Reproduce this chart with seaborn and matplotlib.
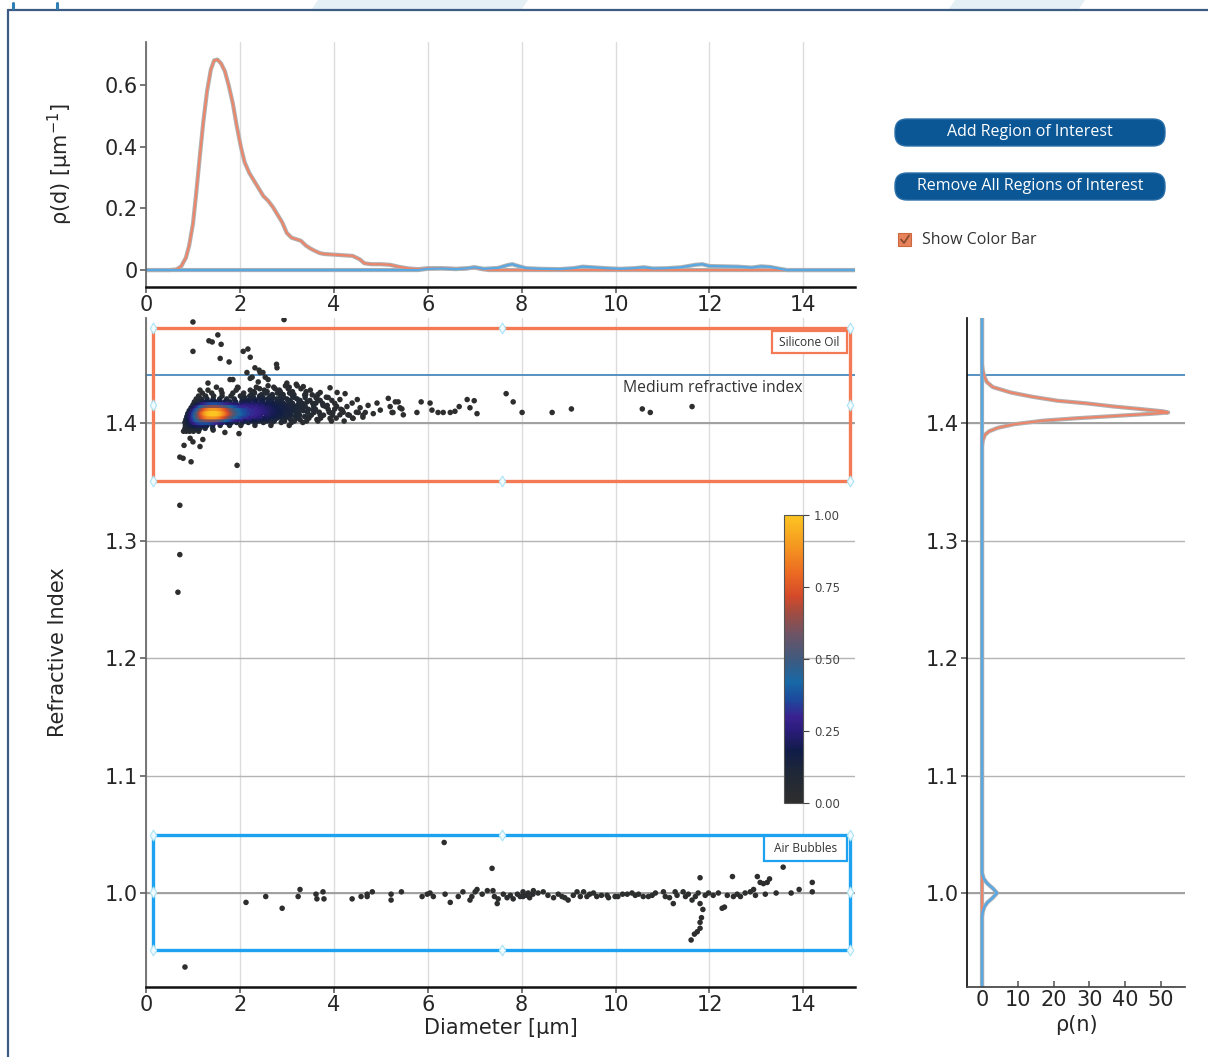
import numpy as np
import pandas as pd
import seaborn as sns
import matplotlib.pyplot as plt
from matplotlib.colors import LinearSegmentedColormap, Normalize
from matplotlib.cm import ScalarMappable
from matplotlib.patches import Rectangle, FancyBboxPatch, Polygon

W, H = 1208, 1057

# ---------------- (b) size distribution rho(d) ----------------
oil_size_d = [0.0, 0.5, 0.65, 0.75, 0.85, 0.92, 1.0, 1.07, 1.14, 1.22, 1.30, 1.38, 1.45,
              1.52, 1.60, 1.68, 1.76, 1.85, 1.93, 2.02, 2.10, 2.20, 2.30, 2.40, 2.50, 2.60,
              2.70, 2.80, 2.90, 3.00, 3.10, 3.20, 3.30, 3.40, 3.50, 3.60, 3.70, 3.80, 4.00,
              4.20, 4.40, 4.55, 4.65, 4.80, 5.00, 5.20, 5.40, 5.60, 5.80, 6.00, 6.30, 6.60,
              6.80, 7.00, 7.15, 7.30, 15.1]
oil_size_rho = [0.0, 0.0, 0.002, 0.012, 0.04, 0.08, 0.15, 0.25, 0.36, 0.48, 0.58, 0.65, 0.68,
                0.683, 0.67, 0.645, 0.60, 0.54, 0.47, 0.40, 0.35, 0.315, 0.29, 0.265, 0.24, 0.225,
                0.205, 0.18, 0.155, 0.12, 0.105, 0.10, 0.095, 0.08, 0.07, 0.062, 0.055, 0.052, 0.05,
                0.048, 0.046, 0.035, 0.022, 0.019, 0.019, 0.017, 0.01, 0.005, 0.003, 0.006, 0.006, 0.004,
                0.005, 0.008, 0.003, 0.0, 0.0]
air_size_d = [0.0, 5.8, 6.0, 6.3, 6.6, 6.8, 7.0, 7.2, 7.5, 7.7, 7.8, 7.95, 8.1, 8.4, 8.8, 9.1,
              9.3, 9.5, 9.8, 10.1, 10.4, 10.6, 10.8, 11.1, 11.4, 11.7, 11.85, 12.0, 12.3, 12.6,
              12.9, 13.1, 13.3, 13.5, 13.65, 15.1]
air_size_rho = [0.0, 0.0, 0.004, 0.005, 0.003, 0.005, 0.009, 0.004, 0.007, 0.016, 0.019, 0.012,
                0.006, 0.004, 0.003, 0.006, 0.011, 0.009, 0.006, 0.004, 0.006, 0.009, 0.005, 0.006,
                0.009, 0.017, 0.019, 0.013, 0.012, 0.011, 0.008, 0.012, 0.010, 0.004, 0.0, 0.0]

# ---------------- (c) refractive index distribution rho(n) ----------------
oil_ri_n = [0.92, 1.38, 1.385, 1.390, 1.393, 1.396, 1.399, 1.402, 1.404, 1.406, 1.408, 1.409,
            1.410, 1.412, 1.414, 1.4168, 1.419, 1.4224, 1.426, 1.4306, 1.435, 1.440, 1.445, 1.45, 1.49]
oil_ri_rho = [0.0, 0.0, 0.2, 0.8, 2.0, 4.5, 9.0, 17.0, 26.0, 37.0, 48.0, 52.0,
              50.5, 44.0, 37.0, 29.0, 21.0, 14.0, 8.0, 3.0, 1.3, 0.6, 0.2, 0.0, 0.0]
air_ri_n = [0.92, 0.980, 0.984, 0.988, 0.992, 0.996, 1.000, 1.004, 1.008, 1.012, 1.017, 1.49]
air_ri_rho = [0.0, 0.0, 0.2, 0.6, 1.5, 3.0, 4.2, 3.0, 1.5, 0.5, 0.0, 0.0]

# ---------------- (a) particle measurements: diameter / refractive index ----------------
# dense silicone-oil population, grouped by refractive index rows
oil_rows = {
    1.3930: [0.80, 0.86, 0.93, 1.01, 1.12],
    1.3955: [0.83, 0.89, 0.95, 1.01, 1.07, 1.15, 1.26, 1.42],
    1.3980: [0.84, 0.90, 0.96, 1.02, 1.08, 1.14, 1.21, 1.30, 1.42, 1.58, 1.78, 2.02, 2.32, 2.66, 3.05],
    1.4005: [0.83, 0.89, 0.95, 1.01, 1.06, 1.11, 1.16, 1.21, 1.27, 1.33, 1.40, 1.47, 1.55, 1.63,
             1.72, 1.82, 1.93, 2.05, 2.18, 2.33, 2.50, 2.68, 2.88, 3.10, 3.34],
    1.4030: [0.85, 0.91, 0.97, 1.02, 1.07, 1.11, 1.15, 1.19, 1.23, 1.27, 1.31, 1.35, 1.39, 1.43,
             1.47, 1.51, 1.55, 1.59, 1.63, 1.67, 1.72, 1.77, 1.83, 1.89, 1.96, 2.04, 2.13, 2.23,
             2.34, 2.46, 2.59, 2.74, 2.90, 3.08, 3.28],
    1.4055: [0.87, 0.94, 1.00, 1.05, 1.09, 1.13, 1.17, 1.20, 1.23, 1.26, 1.29, 1.32, 1.35, 1.38,
             1.41, 1.44, 1.47, 1.50, 1.53, 1.56, 1.59, 1.62, 1.65, 1.69, 1.73, 1.77, 1.82, 1.87,
             1.93, 1.99, 2.06, 2.14, 2.23, 2.33, 2.44, 2.56, 2.69, 2.84, 3.00, 3.18, 3.38],
    1.4080: [0.89, 0.96, 1.02, 1.07, 1.11, 1.15, 1.18, 1.21, 1.24, 1.27, 1.30, 1.33, 1.36, 1.39,
             1.42, 1.45, 1.48, 1.51, 1.54, 1.57, 1.60, 1.63, 1.66, 1.70, 1.74, 1.78, 1.83, 1.88,
             1.94, 2.00, 2.07, 2.15, 2.24, 2.34, 2.45, 2.57, 2.70, 2.85, 3.02, 3.20],
    1.4105: [0.92, 0.99, 1.05, 1.10, 1.14, 1.17, 1.20, 1.23, 1.26, 1.29, 1.32, 1.35, 1.38, 1.41,
             1.44, 1.47, 1.50, 1.53, 1.56, 1.59, 1.62, 1.65, 1.68, 1.72, 1.76, 1.80, 1.85, 1.90,
             1.96, 2.03, 2.11, 2.20, 2.30, 2.41, 2.53, 2.66, 2.81, 2.97, 3.15, 3.35],
    1.4130: [0.96, 1.03, 1.09, 1.14, 1.18, 1.22, 1.26, 1.30, 1.34, 1.38, 1.42, 1.46, 1.50, 1.54,
             1.58, 1.62, 1.66, 1.70, 1.75, 1.80, 1.86, 1.92, 1.99, 2.07, 2.16, 2.26, 2.37, 2.49,
             2.62, 2.77, 2.93, 3.11, 3.30],
    1.4155: [1.00, 1.08, 1.15, 1.21, 1.27, 1.33, 1.39, 1.45, 1.51, 1.57, 1.63, 1.70, 1.77, 1.85,
             1.94, 2.04, 2.15, 2.27, 2.40, 2.54, 2.69, 2.86, 3.04, 3.24],
    1.4180: [1.03, 1.12, 1.21, 1.30, 1.39, 1.48, 1.58, 1.68, 1.79, 1.91, 2.04, 2.18, 2.33, 2.49,
             2.66, 2.84, 3.04, 3.26],
    1.4205: [1.07, 1.18, 1.30, 1.43, 1.57, 1.72, 1.88, 2.05, 2.22, 2.40, 2.59, 2.79, 3.00, 3.22],
    1.4230: [1.12, 1.27, 1.44, 1.62, 1.81, 2.01, 2.21, 2.42, 2.64, 2.87, 3.12],
    1.4255: [1.20, 1.40, 1.62, 1.85, 2.08, 2.31, 2.55, 2.80, 3.06],
    1.4280: [1.32, 1.60, 1.92, 2.22, 2.52, 2.84],
    1.4305: [1.50, 1.95, 2.35, 2.72, 3.05],
}

# silicone-oil particles filling the broad shoulder between 2 and 4.5 µm
oil_rows_mid = {
    1.4017: [2.10, 2.27, 2.41, 2.58, 2.73, 2.95, 3.16, 3.42, 3.66, 3.95, 4.22],
    1.4042: [2.02, 2.19, 2.38, 2.52, 2.63, 2.79, 2.97, 3.24, 3.47, 3.72, 4.05, 4.40],
    1.4067: [2.11, 2.29, 2.40, 2.61, 2.77, 2.92, 3.09, 3.27, 3.52, 3.78, 3.97, 4.33, 4.62],
    1.4092: [2.08, 2.26, 2.38, 2.50, 2.73, 2.88, 3.06, 3.25, 3.44, 3.69, 3.90, 4.20, 4.48],
    1.4117: [2.13, 2.33, 2.46, 2.58, 2.71, 2.89, 3.04, 3.22, 3.46, 3.61, 3.88, 4.15],
    1.4142: [2.09, 2.21, 2.35, 2.47, 2.62, 2.82, 2.99, 3.17, 3.39, 3.57, 3.82, 4.06],
    1.4167: [2.12, 2.28, 2.44, 2.59, 2.75, 2.93, 3.12, 3.33, 3.55, 3.76, 4.02],
    1.4192: [2.14, 2.31, 2.48, 2.68, 2.88, 3.07, 3.28, 3.49, 3.71, 3.96],
    1.4217: [2.10, 2.29, 2.49, 2.70, 2.93, 3.16, 3.39, 3.62, 3.88],
    1.4242: [2.25, 2.46, 2.69, 2.92, 3.15, 3.40, 3.66],
    1.4267: [2.30, 2.58, 2.86, 3.12, 3.41],
    1.4292: [2.42, 2.75, 3.03, 3.30],
    1.4317: [2.60, 2.97, 3.22],
}

# scattered silicone-oil particles (tail and outliers)
oil_sparse_d = [1.00, 2.94, 1.34, 1.41, 1.53, 1.60, 1.00, 1.58, 1.77, 2.07, 2.17, 2.22, 2.15,
                2.32, 2.41, 2.79, 2.78, 2.26, 1.85, 0.81, 0.72, 0.79, 0.96, 1.94, 0.94, 1.21,
                1.00, 1.15, 1.68, 1.98, 1.43, 0.72, 0.72, 0.68,
                3.92, 4.07, 4.24, 4.13, 3.86, 3.98, 4.13, 3.92, 4.28, 4.39, 4.50, 4.56, 4.67,
                4.73, 4.84, 4.92, 4.99, 5.16, 5.20, 5.26, 5.37, 5.45, 5.48, 3.64, 3.71, 3.54,
                3.43, 3.56, 3.71, 3.45, 3.77, 3.64, 3.35, 3.20, 3.00, 2.54, 2.60, 2.39, 2.43,
                2.49, 2.22, 1.96, 1.79, 1.32, 1.15, 4.52, 4.62, 4.30, 4.18, 4.41, 5.31, 5.41,
                5.24, 3.50, 3.62, 3.84, 4.02, 3.38, 3.58,
                5.86, 5.77, 6.05, 6.09, 6.22, 6.33, 6.48, 6.58, 6.67, 6.84, 6.99, 6.90, 7.05,
                7.67, 7.82, 8.01, 8.65, 9.06, 10.57, 10.74, 11.63]
oil_sparse_n = [1.486, 1.488, 1.470, 1.469, 1.475, 1.467, 1.461, 1.455, 1.452, 1.461, 1.463, 1.456, 1.443,
                1.447, 1.445, 1.447, 1.450, 1.439, 1.437, 1.381, 1.371, 1.370, 1.367, 1.364, 1.387, 1.386,
                1.384, 1.380, 1.392, 1.391, 1.394, 1.330, 1.288, 1.256,
                1.430, 1.426, 1.425, 1.420, 1.415, 1.409, 1.407, 1.404, 1.414, 1.417, 1.420, 1.413, 1.409,
                1.415, 1.408, 1.417, 1.411, 1.421, 1.414, 1.409, 1.418, 1.412, 1.407, 1.421, 1.426, 1.424,
                1.418, 1.411, 1.407, 1.405, 1.415, 1.403, 1.431, 1.433, 1.434, 1.439, 1.437, 1.435, 1.443,
                1.443, 1.438, 1.430, 1.437, 1.434, 1.428, 1.409, 1.405, 1.407, 1.411, 1.404, 1.418, 1.413,
                1.409, 1.428, 1.417, 1.422, 1.412, 1.424, 1.409,
                1.418, 1.409, 1.417, 1.411, 1.409, 1.409, 1.409, 1.410, 1.414, 1.420, 1.419, 1.413, 1.408,
                1.425, 1.418, 1.409, 1.409, 1.412, 1.412, 1.409, 1.414]

# air-bubble particles
air_d = [2.13, 2.55, 2.90, 3.24, 3.28, 3.62, 3.64, 3.77, 3.79, 4.39, 4.58, 4.71, 4.71, 4.82,
         5.22, 5.22, 5.44, 5.88, 5.99, 6.05, 6.12, 6.37, 6.48, 6.65, 6.75, 6.90, 6.94, 7.01,
         7.05, 7.16, 7.27, 7.37, 7.39, 7.42, 7.48, 7.50, 7.61, 7.69, 7.76, 7.82, 7.91, 7.97,
         8.03, 8.10, 8.17, 8.24, 6.35, 0.83,
         8.03, 8.14, 8.25, 8.35, 8.46, 8.68, 8.78, 8.86, 8.99, 9.10, 9.18, 9.25, 9.32, 9.39,
         9.53, 9.60, 9.82, 9.85, 9.99, 10.25, 10.42, 10.49, 10.59, 10.70, 10.85, 11.02, 11.06,
         11.23, 11.27, 11.31, 11.44, 11.49, 11.55, 11.63, 11.70, 11.76, 11.80, 11.80, 11.86,
         11.83, 11.80, 11.80, 11.74, 11.68, 11.61, 11.91, 11.98, 12.08, 12.19, 12.27, 12.32,
         12.38, 12.49, 12.51, 12.59, 12.66, 12.76, 12.87, 12.94, 12.98, 13.02, 13.08, 13.15,
         13.23, 13.28, 13.19, 13.42, 13.57, 13.74, 13.91, 14.19, 14.19,
         8.56, 8.92, 9.45, 9.70, 10.05, 10.15, 10.35, 10.78, 11.15]
air_n = [0.992, 0.997, 0.987, 0.997, 1.003, 0.999, 0.995, 1.001, 0.995, 0.995, 0.997, 0.999, 0.997, 1.001,
         0.999, 0.994, 1.001, 0.997, 0.999, 1.000, 0.997, 0.999, 0.992, 0.997, 1.001, 0.994, 0.997, 1.001,
         1.003, 0.999, 1.002, 1.021, 1.002, 0.997, 0.991, 0.995, 0.999, 0.996, 0.998, 0.995, 0.999, 0.997,
         1.001, 0.998, 0.996, 0.999, 1.043, 0.937,
         0.997, 1.000, 1.002, 1.000, 1.001, 0.996, 0.999, 0.997, 0.994, 0.998, 1.001, 0.997, 1.001, 0.997,
         1.000, 0.997, 0.998, 0.996, 0.997, 0.999, 0.998, 0.999, 0.997, 0.997, 1.000, 1.001, 0.997,
         0.991, 1.001, 0.998, 1.001, 0.997, 0.999, 0.994, 0.997, 1.000, 1.013, 0.991, 0.986,
         0.979, 0.975, 0.970, 0.967, 0.965, 0.960, 0.998, 1.000, 0.998, 1.000, 0.987, 0.988,
         0.998, 1.014, 0.997, 0.999, 0.997, 1.000, 1.001, 1.003, 0.998, 1.014, 1.009, 1.008,
         1.009, 1.012, 0.999, 1.000, 1.022, 1.000, 1.003, 1.009, 1.001,
         0.998, 0.996, 0.999, 0.998, 0.997, 0.999, 1.000, 0.998, 0.996]

# reference levels and regions of interest
medium_n = 1.4409
roi_oil = (0.15, 15.0, 1.3506, 1.4809)
roi_air = (0.15, 15.0, 0.9515, 1.0494)

# ---------------- colours ----------------
density_cmap = LinearSegmentedColormap.from_list("density", [
    (0.00, "#2e2e2e"), (0.10, "#1f2836"), (0.18, "#101c48"), (0.25, "#2a1c7a"),
    (0.30, "#3a2290"), (0.36, "#1c4a9c"), (0.42, "#1768a6"), (0.50, "#3f5a7e"),
    (0.58, "#6a5468"), (0.66, "#a04c42"), (0.72, "#d44a2a"), (0.80, "#ec6a22"),
    (0.90, "#f59a20"), (1.00, "#fcc421")])
oil_col = "#ee8468"
air_col = "#58a8e4"
halo_col = "#b0b0b0"

# ---------------- assemble scatter data with a point-density estimate ----------------
rows_d, rows_n = [], []
for table in (oil_rows, oil_rows_mid):
    for n_val, d_list in table.items():
        rows_d += d_list
        rows_n += [n_val] * len(d_list)
all_d = np.array(rows_d + oil_sparse_d + air_d)
all_n = np.array(rows_n + oil_sparse_n + air_n)
zd = all_d / 0.22
zn = all_n / 0.004
dens = np.exp(-0.5 * ((zd[:, None] - zd[None, :]) ** 2 + (zn[:, None] - zn[None, :]) ** 2)).sum(axis=1)
dens = (dens / dens.max()) ** 2.2
pts = pd.DataFrame({"d": all_d, "n": all_n, "dens": dens}).sort_values("dens")

sns.set_theme(style="white")
plt.rcParams['font.family'] = ['DejaVu Sans']

fig = plt.figure(figsize=(W / 100, H / 100), dpi=100)

def fig_rect(x0, y0, x1, y1):
    return [x0 / W, 1 - y1 / H, (x1 - x0) / W, (y1 - y0) / H]

ui_font = ["Open Sans", "DejaVu Sans"]

# GUI backdrop layer in pixel coordinates
gui = fig.add_axes([0, 0, 1, 1], zorder=-5)
gui.set_xlim(0, W)
gui.set_ylim(H, 0)
gui.axis("off")
gui.add_patch(Polygon([[318, 0], [528, 0], [522, 9], [312, 9]], closed=True, color="#e4f0f6", lw=0))
gui.add_patch(Polygon([[955, 0], [1085, 0], [1079, 9], [949, 9]], closed=True, color="#e4f0f6", lw=0))
gui.plot([8, W], [10, 10], color="#3b5b82", lw=1.6)
gui.plot([8, 8], [10, H], color="#3b5b82", lw=1.6)
gui.plot([13, 13], [3, 8], color="#2f7fb5", lw=2.2, solid_capstyle="round")
gui.plot([57, 57], [3, 8], color="#2f7fb5", lw=2.2, solid_capstyle="round")

for (y0, label) in [(119, "Add Region of Interest"), (173, "Remove All Regions of Interest")]:
    gui.add_patch(FancyBboxPatch((895, y0), 270, 27, boxstyle="round,pad=0,rounding_size=12",
                                 facecolor="#0b5796", edgecolor="#2b6fa8", lw=1))
    gui.text(1030, y0 + 13.5, label, color="white", fontsize=11.5, ha="center", va="center",
             family=ui_font)
gui.add_patch(Rectangle((898, 233), 13, 13, facecolor="#e8825a", edgecolor="#c9683f", lw=0.8))
gui.plot([901, 904, 909], [239.5, 243, 235.5], color="#8a4a30", lw=1.3)
gui.text(922, 240, "Show Color Bar", color="#333333", fontsize=11.5, ha="left", va="center",
         family=ui_font)

label_font = ["Liberation Sans", "DejaVu Sans"]
gui.text(286, 90, "(b)", fontsize=30, ha="center", va="center", family=label_font, color="#111111")
gui.text(286, 535, "(a)", fontsize=30, ha="center", va="center", family=label_font, color="#111111")
gui.text(1100, 535, "(c)", fontsize=30, ha="center", va="center", family=label_font, color="#111111")

tick_fs = 15

# ---------------- (b) ----------------
ax_b = fig.add_axes(fig_rect(146, 42, 855, 287))
sns.lineplot(x=oil_size_d, y=oil_size_rho, ax=ax_b, color=halo_col, lw=3.0, sort=False, estimator=None)
sns.lineplot(x=air_size_d, y=air_size_rho, ax=ax_b, color=halo_col, lw=3.0, sort=False, estimator=None)
sns.lineplot(x=oil_size_d, y=oil_size_rho, ax=ax_b, color=oil_col, lw=1.5, sort=False, estimator=None)
sns.lineplot(x=air_size_d, y=air_size_rho, ax=ax_b, color=air_col, lw=1.6, sort=False, estimator=None)
ax_b.set_xlim(0, 15.1)
ax_b.set_ylim(-0.055, 0.74)
ax_b.set_xticks(range(0, 15, 2))
ax_b.set_yticks([0, 0.2, 0.4, 0.6])
ax_b.set_yticklabels(["0", "0.2", "0.4", "0.6"])
ax_b.xaxis.grid(True, color="#dcdcdc", lw=1)
ax_b.yaxis.grid(False)
for s in ["top", "right"]:
    ax_b.spines[s].set_visible(False)
ax_b.spines["left"].set_color("#666666")
ax_b.spines["bottom"].set_color("#111111")
ax_b.spines["bottom"].set_linewidth(1.8)
ax_b.tick_params(labelsize=tick_fs, length=4, color="#666666", bottom=True, left=True, pad=2)
ax_b.set_ylabel(r"ρ(d) [μm$^{-1}$]", fontsize=tick_fs, labelpad=21)
ax_b.set_xlabel("")

# ---------------- (a) ----------------
ax_a = fig.add_axes(fig_rect(146, 318, 855, 987))
ax_a.set_xlim(0, 15.1)
ax_a.set_ylim(0.92, 1.4894)
ax_a.set_xticks(range(0, 15, 2))
ax_a.set_yticks([1.0, 1.1, 1.2, 1.3, 1.4])
ax_a.xaxis.grid(True, color="#dcdcdc", lw=1)
ax_a.yaxis.grid(True, color="#b4b4b4", lw=1)
ax_a.axhline(1.4, color="#a0a0a0", lw=1.4, zorder=1)
ax_a.axhline(1.0, color="#a0a0a0", lw=1.4, zorder=1)
ax_a.axhline(medium_n, color="#4a88bd", lw=1.3, zorder=1)
sns.scatterplot(data=pts, x="d", y="n", hue="dens", palette=density_cmap, hue_norm=(0, 1),
                s=16, linewidth=0, legend=False, ax=ax_a, zorder=3)
ax_a.text(10.16, 1.4298, "Medium refractive index", fontsize=11.3, color="#333333",
          ha="left", va="center", family=ui_font)

for (x0, x1, y0, y1), col, label, box in [
        (roi_oil, "#f47a55", "Silicone Oil", (13.34, 14.92, 1.4596, 1.4783)),
        (roi_air, "#1ca2f0", "Air Bubbles", (13.17, 14.92, 1.0272, 1.0485))]:
    ax_a.add_patch(Rectangle((x0, y0), x1 - x0, y1 - y0, fill=False, edgecolor=col, lw=2.4, zorder=4))
    ax_a.add_patch(Rectangle((box[0], box[2]), box[1] - box[0], box[3] - box[2],
                             facecolor="white", edgecolor=col, lw=1.6, zorder=5))
    ax_a.text((box[0] + box[1]) / 2, (box[2] + box[3]) / 2, label, fontsize=8.6, color="#333333",
              ha="center", va="center", zorder=6, family=ui_font)
    xm, ym = 7.59, (y0 + y1) / 2
    hx = [x0, xm, x1, x0, xm, x1, x0, x1]
    hy = [y0, y0, y0, y1, y1, y1, ym, ym]
    ax_a.scatter(hx, hy, marker="d", s=30, facecolor="#f2fbff", edgecolor="#a9e3f5", lw=0.8, zorder=6)

for s in ["top", "right"]:
    ax_a.spines[s].set_visible(False)
ax_a.spines["left"].set_color("#666666")
ax_a.spines["bottom"].set_color("#111111")
ax_a.spines["bottom"].set_linewidth(1.8)
ax_a.tick_params(labelsize=tick_fs, length=4, color="#666666", bottom=True, left=True, pad=2)
ax_a.set_xlabel("Diameter [μm]", fontsize=tick_fs, labelpad=2)
ax_a.set_ylabel("Refractive Index", fontsize=tick_fs, labelpad=26)

# colour bar for point density
cax = fig.add_axes(fig_rect(784, 515, 803, 803))
cb = fig.colorbar(ScalarMappable(norm=Normalize(0, 1), cmap=density_cmap), cax=cax,
                  ticks=[0, 0.25, 0.5, 0.75, 1.0])
cb.ax.set_yticklabels(["0.00", "0.25", "0.50", "0.75", "1.00"])
cb.ax.tick_params(labelsize=8.5, length=4, width=0.8, colors="#444444", pad=4)
cb.outline.set_edgecolor("#555555")
cb.outline.set_linewidth(0.8)

# ---------------- (c) ----------------
ax_c = fig.add_axes(fig_rect(967, 318, 1185, 987))
ax_c.set_xlim(-4.2, 56.7)
ax_c.set_ylim(0.92, 1.4894)
ax_c.set_xticks([0, 10, 20, 30, 40, 50])
ax_c.set_yticks([1.0, 1.1, 1.2, 1.3, 1.4])
ax_c.xaxis.grid(False)
ax_c.yaxis.grid(True, color="#b4b4b4", lw=1)
ax_c.axhline(1.4, color="#a0a0a0", lw=1.4, zorder=1)
ax_c.axhline(1.0, color="#a0a0a0", lw=1.4, zorder=1)
ax_c.axhline(medium_n, color="#4a88bd", lw=1.3, zorder=1)
sns.lineplot(x=oil_ri_rho, y=oil_ri_n, ax=ax_c, color=halo_col, lw=3.0, sort=False, estimator=None)
sns.lineplot(x=air_ri_rho, y=air_ri_n, ax=ax_c, color=halo_col, lw=3.0, sort=False, estimator=None)
sns.lineplot(x=oil_ri_rho, y=oil_ri_n, ax=ax_c, color=oil_col, lw=1.5, sort=False, estimator=None)
sns.lineplot(x=air_ri_rho, y=air_ri_n, ax=ax_c, color=air_col, lw=1.8, sort=False, estimator=None)
for s in ["top", "right"]:
    ax_c.spines[s].set_visible(False)
ax_c.spines["left"].set_color("#111111")
ax_c.spines["bottom"].set_color("#444444")
ax_c.tick_params(labelsize=tick_fs, length=4, color="#666666", bottom=True, left=True, pad=2)
ax_c.tick_params(axis="x", direction="in")
ax_c.set_xlabel("ρ(n)", fontsize=tick_fs, labelpad=4)
ax_c.set_ylabel("")

fig.savefig("out.png", dpi=100, facecolor="white")
